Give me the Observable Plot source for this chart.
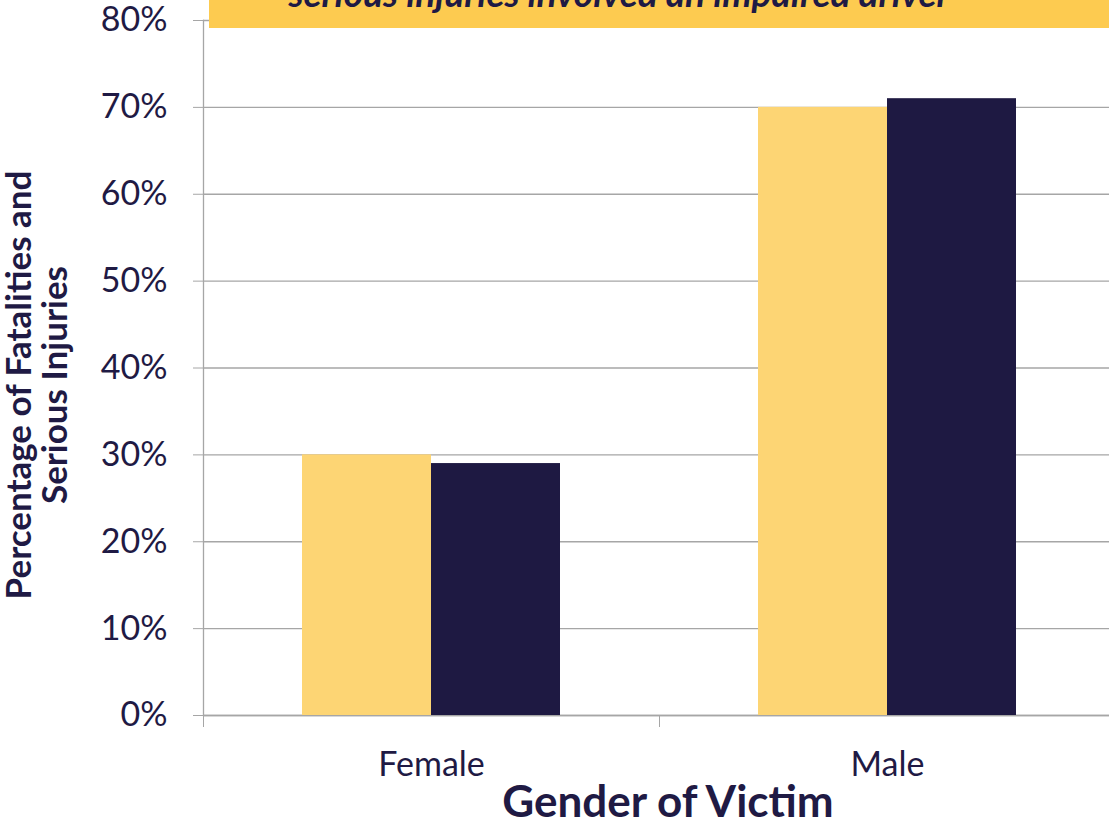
<!DOCTYPE html>
<html>
<head>
<meta charset="utf-8">
<script src="https://cdn.jsdelivr.net/npm/d3@7"></script>
<script src="https://cdn.jsdelivr.net/npm/@observablehq/plot@0.6"></script>
<style>
  html, body { margin: 0; padding: 0; background: #ffffff; overflow: hidden; }
  #wrap { position: relative; width: 1109px; height: 826px; overflow: hidden; }
  #chart { width: 1115px; }
  #chart svg { max-width: none !important; }
  #banner { position: absolute; left: 209px; top: 0; width: 900px; height: 28px; background: #FDCB50; overflow: hidden; z-index: 2; }
  #banner svg { position: absolute; left: 0; top: 0; }
</style>
</head>
<body>
<div id="wrap">
  <div id="banner"></div>
  <div id="chart"></div>
</div>
<script>
// ---- data ----
const genders = ["Female", "Male"];
const seriesNames = ["Impaired-driver crashes", "All crashes"];
const impairedValues = [0.30, 0.70];
const allValues = [0.29, 0.71];
const yTicks = [0, 0.1, 0.2, 0.3, 0.4, 0.5, 0.6, 0.7, 0.8];
const seriesColors = ["#FDD574", "#1E1942"];
const bannerText = "serious injuries involved an impaired driver";
const xTitle = "Gender of Victim";
const yTitleLines = ["Percentage of Fatalities and", "Serious Injuries"];

const rows = genders.flatMap((g, i) => [
  {gender: g, series: seriesNames[0], value: impairedValues[i]},
  {gender: g, series: seriesNames[1], value: allValues[i]}
]);

const W = 1115, H = 826, ML = 203, MR = 0, MT = 20, MB = 111;
const navy = "#1F1A44";
const gray = "#A6A6A6";
const halfBand = (W - ML - MR) / genders.length / 2;

const chart = Plot.plot({
  width: W,
  height: H,
  marginTop: MT,
  marginBottom: MB,
  marginLeft: ML,
  marginRight: MR,
  style: {fontFamily: "Lato, sans-serif", color: navy, background: "transparent", overflow: "visible", maxWidth: "none"},
  fx: {domain: genders, padding: 0, label: null},
  x: {domain: seriesNames, paddingInner: 0, paddingOuter: 0.754, axis: null},
  y: {domain: [0, 0.8], label: null},
  color: {domain: seriesNames, range: seriesColors},
  marks: [
    Plot.gridY(yTicks, {stroke: gray, strokeOpacity: 1, strokeWidth: 1.3}),
    Plot.ruleY([0], {stroke: gray, strokeWidth: 1.3}),
    Plot.frame({anchor: "left", facetAnchor: "left", stroke: gray, strokeWidth: 1.3}),
    Plot.barY(rows, {fx: "gender", x: "series", y: "value", fill: "series"}),
    Plot.axisY(yTicks, {
      tickSize: 10, tickPadding: 26, tickFormat: d3.format(".0%"),
      fontSize: 34, stroke: gray, fill: navy, label: null
    }),
    Plot.axisFx({anchor: "bottom", tickSize: 12, dx: -halfBand, stroke: gray, text: null, label: null}),
    Plot.axisFx({anchor: "bottom", tickSize: 0, tickPadding: 36, fontSize: 34, fill: navy, label: null})
  ]
});
chart.style.maxWidth = "none";
document.getElementById("chart").appendChild(chart);

// axis titles
const svg = d3.select(chart);
svg.append("text")
  .attr("x", 668).attr("y", 817)
  .attr("text-anchor", "middle")
  .attr("font-family", "Lato, sans-serif")
  .attr("font-weight", "bold")
  .attr("font-size", 44)
  .attr("fill", navy)
  .text(xTitle);

const yTitle = svg.append("text")
  .attr("transform", "translate(0,385) rotate(-90)")
  .attr("text-anchor", "middle")
  .attr("font-family", "Lato, sans-serif")
  .attr("font-weight", "bold")
  .attr("font-size", 35)
  .attr("fill", navy);
yTitleLines.forEach((line, i) => {
  yTitle.append("tspan").attr("x", 0).attr("y", 31 + i * 36).text(line);
});

// banner text (cut at top, as in the reference)
const banner = d3.select("#banner").append("svg").attr("width", 900).attr("height", 28);
banner.append("text")
  .attr("x", 410).attr("y", 7)
  .attr("text-anchor", "middle")
  .attr("font-family", "Lato, sans-serif")
  .attr("font-weight", "bold")
  .attr("font-style", "italic")
  .attr("font-size", 37)
  .attr("fill", navy)
  .text(bannerText);
</script>
</body>
</html>
